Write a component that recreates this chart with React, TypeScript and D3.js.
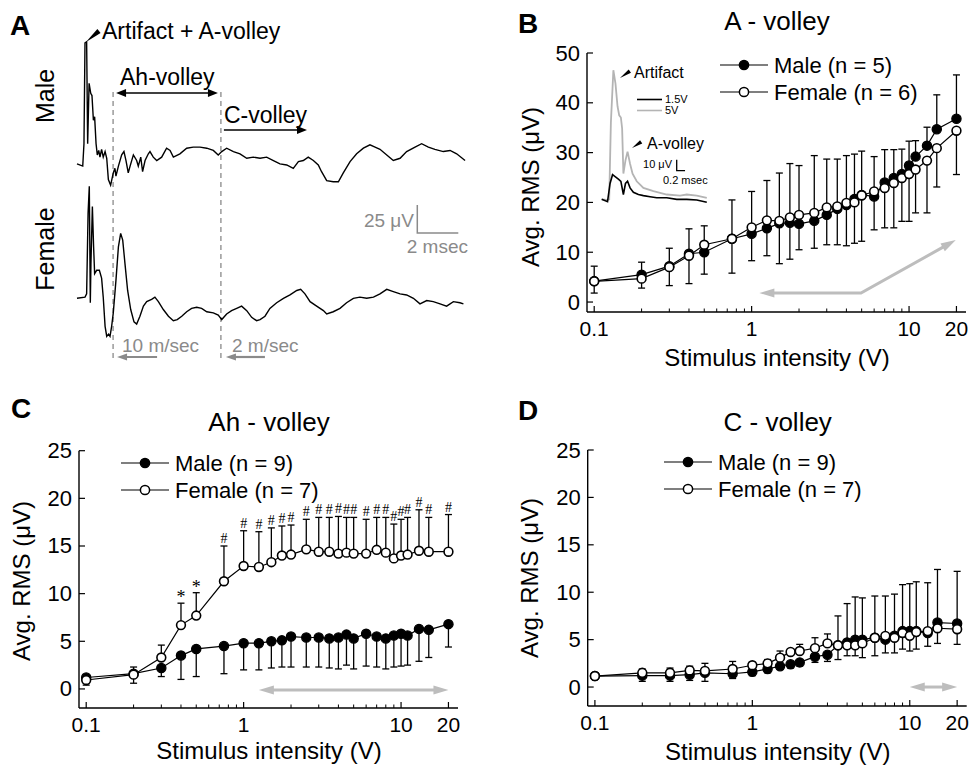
import * as d3 from 'd3';

const FONT = '"Liberation Sans", Arial, Helvetica, sans-serif';
const GRAY = '#8a8a8a';
const LIGHT = '#bdbdbd';

// stimulus intensities (V) used in B, C and D
const stimV = [0.1, 0.2, 0.3, 0.4, 0.5, 0.75, 1, 1.25, 1.5, 1.75, 2, 2.5, 3, 3.5, 4, 4.5, 5, 6, 7, 8, 9, 10, 11, 13, 15, 20];
const xMajor = [0.1, 1, 10, 20];
const xMinor = [0.2, 0.3, 0.4, 0.5, 0.6, 0.7, 0.8, 0.9, 2, 3, 4, 5, 6, 7, 8, 9];

// B: A-volley
const bMale = [4.2, 5.5, 7.2, 9.7, 10.0, 12.7, 13.7, 14.8, 15.8, 15.9, 15.7, 16.3, 17.5, 18.7, 19.5, 20.7, 21.5, 21.2, 24.0, 24.9, 25.7, 27.4, 29.2, 31.4, 34.7, 36.8];
const bFemale = [4.15, 4.7, 7.0, 9.3, 11.5, 12.7, 15.0, 16.4, 16.3, 17.0, 17.5, 17.9, 19.0, 19.2, 19.9, 20.0, 21.4, 22.2, 22.9, 23.9, 24.9, 25.7, 26.6, 28.4, 30.9, 34.4];
const bErrHi = [7.2, 8.0, 10.8, 14.7, 15.3, 20.5, 22.2, 24.4, 25.9, 27.8, 27.4, 29.4, 28.7, 28.7, 29.4, 29.7, 30.3, 29.2, 30.6, 30.6, 30.7, 32.3, 32.4, 35.1, 41.6, 45.6];
const bErrLo = [1.8, 2.8, 3.3, 3.7, 5.6, 5.8, 8.3, 9.3, 7.7, 8.6, 10.5, 10.8, 11.5, 11.5, 11.3, 11.8, 12.2, 14.5, 14.9, 14.9, 16.2, 16.2, 17.9, 17.9, 23.1, 25.6];
const bArrow: [number, number][] = [[1.12, 1.8], [4.95, 1.8], [19.8, 12.45]];

// C: Ah-volley
const cMale = [1.2, 1.6, 2.2, 3.5, 4.2, 4.5, 4.8, 4.8, 5.0, 5.1, 5.5, 5.4, 5.4, 5.3, 5.4, 5.7, 5.3, 5.8, 5.5, 5.3, 5.6, 5.8, 5.6, 6.3, 6.2, 6.8];
const cFemale = [0.94, 1.5, 3.3, 6.7, 7.7, 11.3, 12.9, 12.8, 13.3, 14.0, 14.1, 14.65, 14.4, 14.4, 14.2, 14.3, 14.2, 14.2, 14.6, 14.3, 13.7, 14.0, 14.1, 14.5, 14.4, 14.4];
const cErrHi = [1.3, 2.3, 4.6, 9.0, 10.1, 15.0, 16.6, 16.5, 16.9, 17.1, 17.2, 17.8, 18.0, 18.0, 18.1, 18.0, 18.0, 17.8, 18.0, 18.0, 17.3, 17.8, 18.0, 18.8, 18.0, 18.3];
const cErrLo = [0.4, 0.6, 1.3, 1.0, 1.3, 1.6, 2.0, 2.0, 2.2, 2.3, 2.3, 2.3, 2.3, 2.2, 2.1, 2.5, 2.1, 2.4, 2.3, 2.1, 2.3, 2.4, 2.5, 2.9, 3.3, 4.4];
const cSig = ['', '', '', '*', '*', '#', '#', '#', '#', '#', '#', '#', '#', '#', '#', '#', '#', '#', '#', '#', '#', '#', '#', '#', '#', '#'];
const cArrow: [number, number][] = [[1.25, -0.1], [20, -0.1]];

// D: C-volley
const dMale = [1.16, 1.2, 1.2, 1.3, 1.5, 1.4, 1.6, 1.9, 2.2, 2.4, 2.6, 3.2, 3.4, 4.4, 4.7, 5.0, 5.0, 5.2, 5.0, 5.4, 5.9, 5.9, 5.9, 5.7, 6.8, 6.7];
const dFemale = [1.16, 1.5, 1.5, 1.75, 1.7, 1.9, 2.3, 2.5, 3.1, 3.7, 3.8, 4.1, 4.6, 4.4, 4.4, 4.4, 4.6, 5.2, 5.4, 5.2, 5.7, 5.4, 5.8, 5.9, 6.2, 6.1];
const dErrHi = [1.3, 1.9, 2.0, 2.2, 2.5, 2.7, 2.6, 2.9, 3.8, 4.0, 4.5, 5.2, 5.6, 7.5, 8.8, 9.5, 9.4, 9.6, 9.6, 9.8, 10.8, 10.9, 11.1, 11.0, 12.4, 12.2];
const dErrLo = [1.0, 0.6, 0.6, 0.7, 0.6, 0.9, 1.2, 1.5, 1.9, 2.0, 2.2, 2.6, 2.7, 2.9, 3.3, 3.3, 3.1, 3.3, 3.6, 3.6, 4.0, 3.8, 4.0, 4.3, 4.6, 4.5];
const dArrow: [number, number][] = [[10, 0], [20, 0]];

// A: example traces, [ms, µV]
const maleTrace: [number, number][] = [[0, 1], [0.28, -1], [0.34, 19], [0.39, 109], [0.47, 110], [0.52, 19], [0.59, 73], [0.67, 64], [0.73, 62], [0.8, 40], [0.86, 43], [0.93, 19], [0.99, 9], [1.06, 13], [1.12, 7], [1.2, 14], [1.28, 7], [1.37, 12], [1.45, 6], [1.53, -13], [1.64, -18], [1.77, -7], [1.85, -3], [1.9, -10], [2.02, -1], [2.18, 9], [2.29, 12], [2.39, 4], [2.5, -7], [2.59, -1], [2.75, 9], [2.91, 4], [2.99, -1], [3.11, 7], [3.2, -6], [3.32, 4], [3.48, 10], [3.56, 12], [3.72, 7], [3.89, 4], [4.13, 7], [4.37, 15], [4.54, 13], [4.7, 7], [5.02, 10], [5.35, 15], [5.67, 16], [6.0, 16], [6.33, 15], [6.65, 13], [6.89, 9], [7.06, 12], [7.3, 15], [7.63, 12], [7.95, 10], [8.28, 6], [8.6, 7], [8.93, 6], [9.25, 7], [9.58, 4], [9.9, 1], [10.23, 0], [10.55, -3], [10.8, 3], [11.04, 4], [11.28, 7], [11.53, 4], [11.77, 0], [11.93, -6], [12.18, -14], [12.5, -15], [12.75, -15], [12.99, -7], [13.32, 3], [13.64, 10], [13.97, 15], [14.29, 18], [14.54, 16], [14.78, 14], [15.11, 9], [15.43, 4], [15.76, 6], [16.08, 12], [16.49, 16], [16.81, 19], [17.14, 16], [17.46, 14], [17.87, 12], [18.2, 13], [18.52, 10], [18.93, 4]];
const femaleTrace: [number, number][] = [[0, 0], [0.39, 1], [0.47, 4], [0.54, 76], [0.6, 100], [0.65, -4], [0.68, 31], [0.75, 82], [0.81, 46], [0.86, 22], [0.96, 25], [1.09, 25], [1.2, 18], [1.28, 1], [1.37, -25], [1.45, -34], [1.54, -32], [1.61, -34], [1.69, -25], [1.77, -13], [1.9, 16], [2.02, 46], [2.13, 58], [2.23, 52], [2.34, 31], [2.47, 7], [2.62, -10], [2.78, -21], [2.91, -23], [3.07, -16], [3.24, -7], [3.4, -3], [3.64, -1], [3.8, 1], [3.97, -3], [4.21, -10], [4.46, -16], [4.7, -20], [4.89, -19], [5.11, -16], [5.35, -12], [5.59, -9], [5.84, -8], [6.08, -9], [6.33, -12], [6.65, -13], [6.89, -15], [7.06, -19], [7.3, -14], [7.54, -11], [7.79, -9], [8.03, -7], [8.28, -11], [8.52, -17], [8.76, -20], [8.93, -19], [9.17, -16], [9.41, -9], [9.74, -4], [10.07, 0], [10.39, 3], [10.72, 7], [10.91, 8], [11.12, 4], [11.37, -3], [11.69, -7], [12.02, -11], [12.18, -14], [12.5, -12], [12.83, -9], [13.15, -4], [13.48, 0], [13.8, 1], [14.13, 0], [14.46, 1], [14.78, 4], [15.11, 8], [15.43, 6], [15.76, 4], [16.08, 3], [16.41, 0], [16.73, -5], [17.06, -2], [17.38, -3], [17.71, -5], [18.03, -7], [18.36, -3], [18.68, -4], [18.85, -5]];
const volleyBoundsMs = [1.76, 7.02];

// B inset traces, [ms, µV]
const inset15V: [number, number][] = [[0, 0.6], [0.14, -1.5], [0.2, 15], [0.26, 23], [0.33, 21], [0.4, 19], [0.46, 17], [0.52, 5], [0.57, 15], [0.62, 17], [0.68, 11], [0.76, 7], [0.88, 5], [1.0, 4], [1.16, 3], [1.32, 2], [1.56, 2], [1.8, 0.6], [2.04, 0.6], [2.28, 0], [2.52, -2]];
const inset5V: [number, number][] = [[0, 0.6], [0.12, 0], [0.18, 0.6], [0.22, 70], [0.28, 118], [0.33, 106], [0.38, 85], [0.42, 77], [0.46, 75], [0.49, 65], [0.52, 24], [0.57, 36], [0.62, 44], [0.68, 33], [0.74, 24], [0.84, 17], [1.0, 11], [1.24, 8], [1.56, 5], [1.88, 4], [2.04, 5], [2.28, 4], [2.52, 2]];

function head(x1: number, y1: number, x2: number, y2: number, len: number, w: number) {
  const a = Math.atan2(y2 - y1, x2 - x1);
  const bx = x2 - len * Math.cos(a);
  const by = y2 - len * Math.sin(a);
  const px = (-Math.sin(a) * w) / 2;
  const py = (Math.cos(a) * w) / 2;
  return `${x2},${y2} ${bx + px},${by + py} ${bx - px},${by - py}`;
}

function Arrow({ pts, color, width, len, hw, start = true, end = true }: any) {
  const p = pts.map((d: number[]) => [...d]);
  const n = p.length;
  const shrink = (a: number[], b: number[], d: number) => {
    const L = Math.hypot(b[0] - a[0], b[1] - a[1]);
    return [b[0] - ((b[0] - a[0]) * d) / L, b[1] - ((b[1] - a[1]) * d) / L];
  };
  const line = [...p];
  if (start) line[0] = shrink(p[1], p[0], len * 0.8);
  if (end) line[n - 1] = shrink(p[n - 2], p[n - 1], len * 0.8);
  return (
    <g>
      <polyline points={line.map((d) => d.join(',')).join(' ')} fill="none" stroke={color} strokeWidth={width} />
      {start ? <polygon points={head(p[1][0], p[1][1], p[0][0], p[0][1], len, hw)} fill={color} /> : null}
      {end ? <polygon points={head(p[n - 2][0], p[n - 2][1], p[n - 1][0], p[n - 1][1], len, hw)} fill={color} /> : null}
    </g>
  );
}

function DosePanel(props: any) {
  const {
    letter, letterX, letterY, title, titleY, axisX, yTopPx, yBottomPx, yMax, yTicks,
    male, female, errHi, errLo, sig, arrow, legendX, legendY, maleLabel, femaleLabel,
    yLabelX, yLabelY, xLabelY
  } = props;
  const x = d3.scaleLog().domain([0.09, 23]).range([axisX, axisX + 379]);
  const y = d3.scaleLinear().domain([-2, yMax]).range([yBottomPx, yTopPx]);
  const axisY = y(-2);
  const line = d3.line<number>().x((_, i) => x(stimV[i])).y((d) => y(d));
  const cap = 3.5;
  return (
    <g fontFamily={FONT}>
      <text x={letterX} y={letterY} fontSize={28} fontWeight="bold">{letter}</text>
      <text x={(axisX + 190)} y={titleY} fontSize={26} textAnchor="middle">{title}</text>
      {/* axes */}
      <line x1={axisX} x2={axisX} y1={axisY} y2={y(yMax)} stroke="#000" strokeWidth={1.4} />
      <line x1={axisX} x2={axisX + 379} y1={axisY} y2={axisY} stroke="#000" strokeWidth={1.4} />
      {yTicks.map((t: number) => (
        <g key={t}>
          <line x1={axisX} x2={axisX + 6} y1={y(t)} y2={y(t)} stroke="#000" strokeWidth={1.2} />
          <text x={axisX - 7} y={y(t) + 7.5} fontSize={22} textAnchor="end">{t}</text>
        </g>
      ))}
      {xMajor.map((t) => (
        <g key={t}>
          <line x1={x(t)} x2={x(t)} y1={axisY} y2={axisY - 6} stroke="#000" strokeWidth={1.2} />
          <text x={x(t)} y={axisY + 24} fontSize={21} textAnchor="middle">{t}</text>
        </g>
      ))}
      {xMinor.map((t) => (
        <line key={t} x1={x(t)} x2={x(t)} y1={axisY} y2={axisY - 3.5} stroke="#000" strokeWidth={1} />
      ))}
      <text transform={`translate(${yLabelX},${yLabelY}) rotate(-90)`} fontSize={24} textAnchor="middle">Avg. RMS (μV)</text>
      <text x={axisX + 190} y={xLabelY} fontSize={24} textAnchor="middle">Stimulus intensity (V)</text>
      {/* gray range arrow */}
      <Arrow pts={arrow.map((d: number[]) => [x(d[0]), y(d[1])])} color={LIGHT} width={3} len={15} hw={9} />
      {/* series lines */}
      <path d={line(male) || ''} fill="none" stroke="#000" strokeWidth={1.2} />
      <path d={line(female) || ''} fill="none" stroke="#000" strokeWidth={1.2} />
      {/* error bars */}
      {stimV.map((v, i) => {
        const hi = Math.max(male[i], female[i]);
        const lo = Math.min(male[i], female[i]);
        const cx = x(v);
        return (
          <g key={v} stroke="#000" strokeWidth={1.3}>
            <line x1={cx} x2={cx} y1={y(hi)} y2={y(errHi[i])} />
            <line x1={cx - cap} x2={cx + cap} y1={y(errHi[i])} y2={y(errHi[i])} />
            <line x1={cx} x2={cx} y1={y(lo)} y2={y(errLo[i])} />
            <line x1={cx - cap} x2={cx + cap} y1={y(errLo[i])} y2={y(errLo[i])} />
          </g>
        );
      })}
      {sig
        ? stimV.map((v, i) =>
            sig[i] ? (
              <text
                key={v}
                x={x(v)}
                y={y(errHi[i]) - (sig[i] === '#' ? 3 : 0)}
                fontSize={sig[i] === '#' ? 14 : 18}
                fontFamily='"Liberation Serif", "Times New Roman", serif'
                textAnchor="middle"
              >
                {sig[i]}
              </text>
            ) : null
          )
        : null}
      {male.map((d: number, i: number) => (
        <circle key={'m' + i} cx={x(stimV[i])} cy={y(d)} r={4.6} fill="#000" stroke="#000" strokeWidth={1.3} />
      ))}
      {female.map((d: number, i: number) => (
        <circle key={'f' + i} cx={x(stimV[i])} cy={y(d)} r={4.4} fill="#fff" stroke="#000" strokeWidth={1.6} />
      ))}
      {/* legend */}
      {[
        { label: maleLabel, fill: '#000', dy: 0 },
        { label: femaleLabel, fill: '#fff', dy: 27 }
      ].map((l) => (
        <g key={l.label}>
          <line x1={legendX} x2={legendX + 48} y1={legendY + l.dy} y2={legendY + l.dy} stroke="#000" strokeWidth={1.2} />
          <circle cx={legendX + 24} cy={legendY + l.dy} r={4.6} fill={l.fill} stroke="#000" strokeWidth={1.5} />
          <text x={legendX + 54} y={legendY + l.dy + 8} fontSize={22}>{l.label}</text>
        </g>
      ))}
    </g>
  );
}

function TracePanel() {
  const t = d3.scaleLinear().domain([0, 1]).range([77, 97.5]);
  const yM = d3.scaleLinear().domain([0, 1]).range([165, 163.88]);
  const yF = d3.scaleLinear().domain([0, 1]).range([298.3, 297.18]);
  const lineM = d3.line<[number, number]>().x((d) => t(d[0])).y((d) => yM(d[1]));
  const lineF = d3.line<[number, number]>().x((d) => t(d[0])).y((d) => yF(d[1]));
  const [b1, b2] = volleyBoundsMs.map((d) => t(d));
  const sbX = 417.3;
  const sbY = 233;
  return (
    <g fontFamily={FONT}>
      <text x={10} y={35} fontSize={28} fontWeight="bold">A</text>
      <text transform="translate(54,96) rotate(-90)" fontSize={25} textAnchor="middle">Male</text>
      <text transform="translate(54,249) rotate(-90)" fontSize={25} textAnchor="middle">Female</text>
      {volleyBoundsMs.map((d) => (
        <line key={d} x1={t(d)} x2={t(d)} y1={92} y2={358} stroke={GRAY} strokeWidth={1.3} strokeDasharray="5,4" />
      ))}
      <path d={lineM(maleTrace) || ''} fill="none" stroke="#000" strokeWidth={1.4} />
      <path d={lineF(femaleTrace) || ''} fill="none" stroke="#000" strokeWidth={1.4} />
      <text x={102} y={39} fontSize={23}>Artifact + A-volley</text>
      <polygon points={head(99, 31, 86, 42, 17, 5)} fill="#000" />
      <text x={120} y={85} fontSize={23}>Ah-volley</text>
      <Arrow pts={[[b1 + 3, 93], [b2 - 3, 93]]} color="#000" width={1.6} len={10} hw={8} />
      <text x={224} y={123} fontSize={23}>C-volley</text>
      <Arrow pts={[[b2 + 3, 130], [307, 130]]} color="#000" width={1.6} len={10} hw={8} start={false} />
      {/* scale bar */}
      <polyline points={`${sbX},${sbY - 25 * 1.12} ${sbX},${sbY} ${sbX + 2 * 20.5},${sbY}`} fill="none" stroke={GRAY} strokeWidth={1.5} />
      <text x={414} y={227} fontSize={19} fill={GRAY} textAnchor="end">25 μV</text>
      <text x={468} y={253} fontSize={19} fill={GRAY} textAnchor="end">2 msec</text>
      {/* conduction velocities */}
      <text x={122} y={352} fontSize={19} fill={GRAY}>10 m/sec</text>
      <Arrow pts={[[b1 + 44, 357], [b1 + 4, 357]]} color={GRAY} width={2.2} len={10} hw={7} start={false} />
      <text x={232} y={352} fontSize={19} fill={GRAY}>2 m/sec</text>
      <Arrow pts={[[b2 + 44, 357], [b2 + 5, 357]]} color={GRAY} width={2.2} len={10} hw={7} start={false} />
    </g>
  );
}

function Inset() {
  const t = d3.scaleLinear().domain([0, 1]).range([601.7, 643.4]);
  const v = d3.scaleLinear().domain([0, 1]).range([200, 198.9]);
  const line = d3.line<[number, number]>().x((d) => t(d[0])).y((d) => v(d[1]));
  const sx = 676.7;
  const sy = 170.7;
  return (
    <g fontFamily={FONT}>
      <path d={line(inset5V) || ''} fill="none" stroke="#b4b4b4" strokeWidth={1.8} />
      <path d={line(inset15V) || ''} fill="none" stroke="#000" strokeWidth={1.6} />
      <text x={634} y={78} fontSize={16}>Artifact</text>
      <polygon points={head(630, 71, 620, 78, 12, 4)} fill="#000" />
      <line x1={637} x2={662} y1={99.5} y2={99.5} stroke="#000" strokeWidth={1.6} />
      <text x={665} y={103} fontSize={11}>1.5V</text>
      <line x1={637} x2={662} y1={110.5} y2={110.5} stroke="#b4b4b4" strokeWidth={1.6} />
      <text x={665} y={114} fontSize={11}>5V</text>
      <text x={647} y={149} fontSize={16}>A-volley</text>
      <polygon points={head(641, 142, 632, 148, 11, 4)} fill="#000" />
      <polyline points={`${sx},${sy - 10 * 1.1} ${sx},${sy} ${sx + 0.2 * 41.7},${sy}`} fill="none" stroke="#000" strokeWidth={1.3} />
      <text x={672} y={168} fontSize={11} textAnchor="end">10 μV</text>
      <text x={663} y={184} fontSize={11}>0.2 msec</text>
    </g>
  );
}

export default function App() {
  return (
    <svg width={973} height={768} style={{ position: 'absolute', left: 0, top: 0, background: '#fff' }}>
      <rect width={973} height={768} fill="#fff" />
      <TracePanel />
      <DosePanel
        letter="B" letterX={518} letterY={33} title="A - volley" titleY={30}
        axisX={587} yTopPx={53} yBottomPx={312} yMax={50} yTicks={[0, 10, 20, 30, 40, 50]}
        male={bMale} female={bFemale} errHi={bErrHi} errLo={bErrLo} arrow={bArrow}
        legendX={720} legendY={65} maleLabel="Male (n = 5)" femaleLabel="Female (n = 6)"
        yLabelX={539} yLabelY={187} xLabelY={366}
      />
      <Inset />
      <DosePanel
        letter="C" letterX={11} letterY={418} title="Ah - volley" titleY={431}
        axisX={79} yTopPx={450.7} yBottomPx={708} yMax={25} yTicks={[0, 5, 10, 15, 20, 25]}
        male={cMale} female={cFemale} errHi={cErrHi} errLo={cErrLo} sig={cSig} arrow={cArrow}
        legendX={121} legendY={463} maleLabel="Male (n = 9)" femaleLabel="Female (n = 7)"
        yLabelX={30} yLabelY={581} xLabelY={759}
      />
      <DosePanel
        letter="D" letterX={518} letterY={420} title="C - volley" titleY={431}
        axisX={587.7} yTopPx={450} yBottomPx={706} yMax={25} yTicks={[0, 5, 10, 15, 20, 25]}
        male={dMale} female={dFemale} errHi={dErrHi} errLo={dErrLo} arrow={dArrow}
        legendX={664} legendY={462} maleLabel="Male (n = 9)" femaleLabel="Female (n = 7)"
        yLabelX={538} yLabelY={578} xLabelY={760}
      />
    </svg>
  );
}
